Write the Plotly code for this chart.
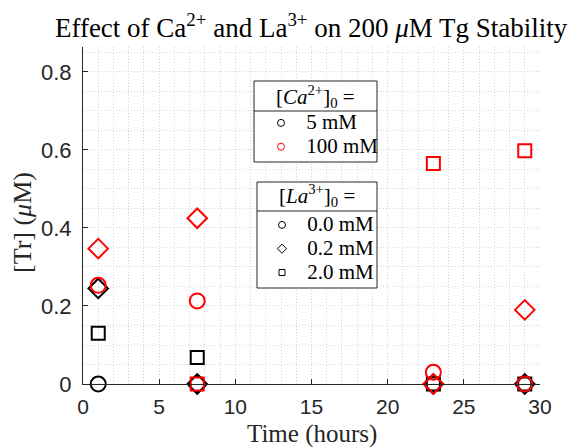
import plotly.graph_objects as go

# Sampling times (hours)
time_h = [1, 7.5, 23, 29]

# [Tr] (uM) for each Ca2+ / La3+ combination
ca5_la00 = [0.0, 0.0, 0.0, 0.0]
ca5_la02 = [0.245, 0.0, 0.0, 0.0]
ca5_la20 = [0.130, 0.068, 0.0, 0.0]
ca100_la00 = [0.253, 0.213, 0.030, 0.0]
ca100_la02 = [0.347, 0.425, 0.0, 0.190]
ca100_la20 = [None, 0.0, 0.565, 0.598]

ca_labels = ["5 mM", "100 mM"]
la_labels = ["0.0 mM", "0.2 mM", "2.0 mM"]

BLACK = "#000000"
RED = "#ff0000"
SERIF = "Liberation Serif, Times New Roman, serif"
SANS = "Liberation Sans, Arial, sans-serif"
INK = "#262626"

symbols = ["circle-open", "diamond-open", "square-open"]
sizes = [15, 15, 13]

series = [
    (ca5_la00, BLACK, 0), (ca5_la02, BLACK, 1), (ca5_la20, BLACK, 2),
    (ca100_la00, RED, 0), (ca100_la02, RED, 1), (ca100_la20, RED, 2),
]

fig = go.Figure()
for ys, col, k in series:
    fig.add_trace(go.Scatter(
        x=time_h, y=ys, mode="markers", showlegend=False, cliponaxis=False,
        marker=dict(symbol=symbols[k], size=sizes[k], color=col,
                    line=dict(color=col, width=2)),
    ))

# Legend key traces (no data, legend only)
def span(t):
    return "<span style='font-size:21px'>&nbsp;" + t + "</span>"

for lab, col in zip(ca_labels, [BLACK, RED]):
    fig.add_trace(go.Scatter(
        x=[None], y=[None], mode="markers", name=span(lab), legend="legend",
        marker=dict(symbol="circle-open", size=7, color=col, line=dict(color=col, width=1)),
    ))
for lab, sym in zip(la_labels, symbols):
    fig.add_trace(go.Scatter(
        x=[None], y=[None], mode="markers", name=span(lab), legend="legend2",
        marker=dict(symbol=sym, size=7 if sym != "square-open" else 6, color=BLACK,
                    line=dict(color=BLACK, width=1)),
    ))

L, R, T, B = 83, 33, 47, 63
W, H = 573, 447
PW, PH = W - L - R, H - T - B


def px(xp):
    return (xp - L) / PW


def py(yp):
    return (H - B - yp) / PH


shapes = []
for (x0, x1, y0, y1, ysep) in [(254, 377, 81, 162, 111), (257, 377, 182, 288, 211)]:
    shapes.append(dict(type="rect", xref="paper", yref="paper", layer="above",
                       x0=px(x0), x1=px(x1), y0=py(y1), y1=py(y0),
                       line=dict(color=INK, width=1), fillcolor="white"))
    shapes.append(dict(type="line", xref="paper", yref="paper", layer="above",
                       x0=px(x0), x1=px(x1), y0=py(ysep), y1=py(ysep),
                       line=dict(color=INK, width=1)))

annotations = [
    dict(text="[<i>Ca</i><sup>2+</sup>]<sub>0</sub> =", xref="paper", yref="paper",
         x=px(315.5), y=py(96), xanchor="center", yanchor="middle", showarrow=False,
         font=dict(family=SERIF, size=21, color="#000")),
    dict(text="[<i>La</i><sup>3+</sup>]<sub>0</sub> =", xref="paper", yref="paper",
         x=px(317), y=py(196), xanchor="center", yanchor="middle", showarrow=False,
         font=dict(family=SERIF, size=21, color="#000")),
    # axis titles
    dict(text="Time (hours)", xref="paper", yref="paper",
         x=0.5, y=py(434), xanchor="center", yanchor="middle", showarrow=False,
         font=dict(family=SERIF, size=25, color=INK)),
    dict(text="[Tr] (<i>\u03bc</i>M)", xref="paper", yref="paper", textangle=-90,
         x=px(22), y=py(222), xanchor="center", yanchor="middle", showarrow=False,
         font=dict(family=SERIF, size=26, color=INK)),
]

legend_common = dict(bgcolor="rgba(0,0,0,0)", borderwidth=0, xanchor="left", yanchor="top",
                     font=dict(family=SERIF, size=16, color="#000"), tracegroupgap=0)

fig.update_layout(
    width=W, height=H,
    margin=dict(l=L, r=R, t=T, b=B, autoexpand=False),
    paper_bgcolor="white", plot_bgcolor="white",
    title=dict(text="Effect of Ca<sup>2+</sup> and La<sup>3+</sup> on 200 <i>\u03bc</i>M Tg Stability",
               x=0.543, xanchor="center", y=1 - 28 / H, yanchor="middle", yref="container",
               font=dict(family=SERIF, size=27, color="#000")),
    legend=dict(x=px(261), y=py(106), **legend_common),
    legend2=dict(x=px(262), y=py(208), **legend_common),
    shapes=shapes,
    annotations=annotations,
)

grid = dict(showgrid=True, gridcolor="#d4d4d4", griddash="1px,2px", gridwidth=1)
fig.update_xaxes(
    range=[0, 30], dtick=5, tick0=0, ticks="inside", ticklen=5, tickcolor=INK,
    showline=True, linecolor=INK, linewidth=1, zeroline=False, ticklabelstandoff=4,
    automargin=False,
    tickfont=dict(family=SANS, size=21, color=INK),
    minor=dict(dtick=1, ticks="", **grid), **grid,
)
fig.update_yaxes(
    range=[0, 0.864], dtick=0.2, tick0=0, ticks="inside", ticklen=5, tickcolor=INK,
    showline=True, linecolor=INK, linewidth=1, zeroline=False, ticklabelstandoff=6,
    automargin=False,
    tickfont=dict(family=SANS, size=22, color=INK),
    minor=dict(dtick=0.05, ticks="", **grid), **grid,
)

fig.write_html("out.html")
